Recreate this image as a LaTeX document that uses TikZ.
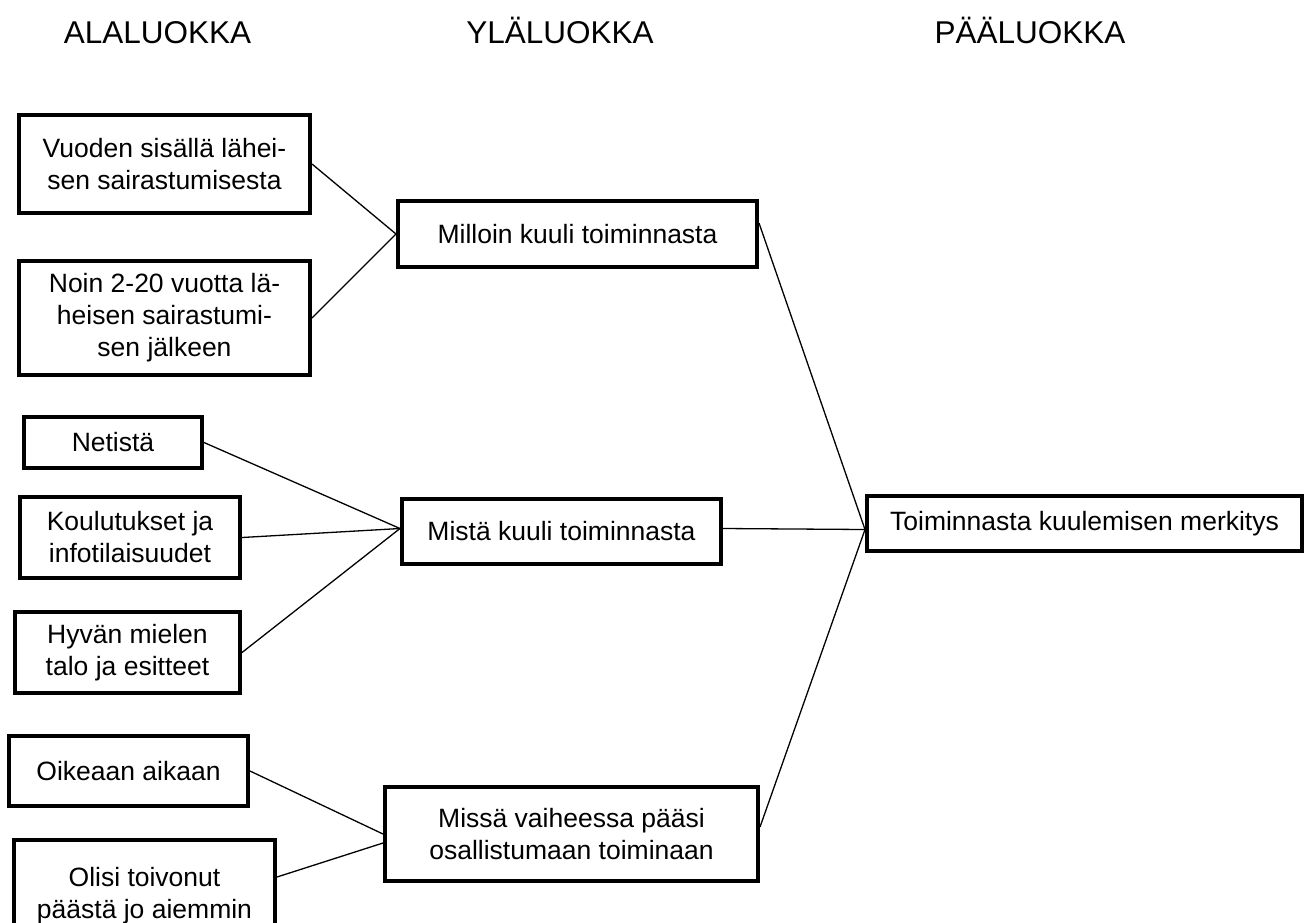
\documentclass[tikz,border=0pt]{standalone}
\usepackage{fontspec}
\setmainfont{Liberation Sans}
\begin{document}
\begin{tikzpicture}[x=1pt,y=-1pt,
  cbox/.style={draw, line width=4pt, inner sep=0pt, align=center, font=\fontsize{26.5}{32}\selectfont},
  head/.style={anchor=base, inner sep=0pt, font=\fontsize{31.5}{36}\selectfont},
  link/.style={line width=1.3pt}]
\useasboundingbox (0,0) rectangle (1312,922);
\clip (0,0) rectangle (1312,922);
% headers
\node[head] (h1) at (157.5,43) {ALALUOKKA};
\node[head] (h2) at (560,43) {YLÄLUOKKA};
\node[head] (h3) at (1030,43) {PÄÄLUOKKA};
% sub-category boxes
\node[cbox, minimum width=291pt, minimum height=98pt] (a1) at (164.5,164) {Vuoden sisällä lähei-\\sen sairastumisesta};
\node[cbox, minimum width=291pt, minimum height=114pt] (a2) at (164.5,318) {Noin 2-20 vuotta lä-\\heisen sairastumi-\\sen jälkeen};
\node[cbox, minimum width=178pt, minimum height=51pt] (a3) at (113,442.5) {Netistä};
\node[cbox, minimum width=220pt, minimum height=81pt] (a4) at (130,537.5) {Koulutukset ja\\infotilaisuudet};
\node[cbox, minimum width=225pt, minimum height=81pt] (a5) at (127.5,652.5) {Hyvän mielen\\talo ja esitteet};
\node[cbox, minimum width=239pt, minimum height=70pt] (a6) at (128.5,771) {Oikeaan aikaan};
\node[cbox, minimum width=261pt, minimum height=112pt] (a7) at (144.5,896) {Olisi toivonut\\päästä jo aiemmin};
% upper category boxes
\node[cbox, minimum width=359pt, minimum height=66pt] (m1) at (577.5,234) {Milloin kuuli toiminnasta};
\node[cbox, minimum width=319pt, minimum height=65pt] (m2) at (561.5,531.5) {Mistä kuuli toiminnasta};
\node[cbox, minimum width=373pt, minimum height=94pt] (m3) at (571.5,834) {Missä vaiheessa pääsi\\osallistumaan toiminaan};
% main category
\node[cbox, minimum width=435pt, minimum height=55pt] (p) at (1084.5,523.5) {Toiminnasta kuulemisen merkitys};
% connectors
\draw[link] (a1.east) -- (m1.west);
\draw[link] (a2.east) -- (m1.west);
\draw[link] (a3.east) -- ([yshift=3pt]m2.west);
\draw[link] (a4.east) -- ([yshift=3pt]m2.west);
\draw[link] (a5.east) -- ([yshift=3pt]m2.west);
\draw[link] (a6.east) -- (m3.west);
\draw[link] ([yshift=19pt]a7.east) -- ([yshift=-9pt]m3.west);
\draw[link] ([yshift=11pt]m1.east) -- ([yshift=-6pt]p.west);
\draw[link] ([yshift=3pt]m2.east) -- ([yshift=-6pt]p.west);
\draw[link] ([yshift=7pt]m3.east) -- ([yshift=-6pt]p.west);
\end{tikzpicture}
\end{document}
